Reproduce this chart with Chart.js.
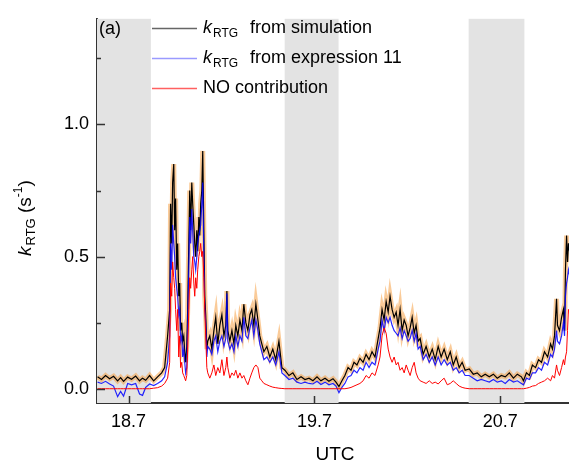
<!DOCTYPE html>
<html>
<head>
<meta charset="utf-8">
<script src="https://cdn.jsdelivr.net/npm/chart.js@4.4.1/dist/chart.umd.min.js"></script>
<style>
  body { margin: 0; background: #fff; }
  #wrap { width: 569px; height: 466px; }
</style>
</head>
<body>
<div id="wrap"><canvas id="myChart" width="569" height="466"></canvas></div>
<script>
// time (UTC hours)
var times = [
  18.533, 18.554, 18.576, 18.598, 18.619, 18.641, 18.657, 18.673, 18.695, 18.716,
  18.738, 18.759, 18.775, 18.792, 18.813, 18.835, 18.856, 18.878, 18.894, 18.910,
  18.921, 18.926, 18.932, 18.937, 18.943, 18.948, 18.953, 18.959, 18.964, 18.970,
  18.975, 18.980, 18.986, 18.991, 18.997, 19.002, 19.007, 19.013, 19.018, 19.024,
  19.029, 19.034, 19.040, 19.045, 19.051, 19.056, 19.061, 19.067, 19.072, 19.078,
  19.083, 19.088, 19.094, 19.099, 19.105, 19.110, 19.115, 19.121, 19.126, 19.137,
  19.148, 19.159, 19.169, 19.180, 19.191, 19.202, 19.213, 19.223, 19.229, 19.234,
  19.245, 19.256, 19.267, 19.277, 19.288, 19.299, 19.310, 19.320, 19.331, 19.342,
  19.353, 19.363, 19.374, 19.385, 19.396, 19.406, 19.417, 19.428, 19.444, 19.460,
  19.476, 19.492, 19.509, 19.525, 19.541, 19.563, 19.584, 19.606, 19.628, 19.649,
  19.671, 19.692, 19.714, 19.735, 19.757, 19.778, 19.800, 19.816, 19.832, 19.848,
  19.864, 19.881, 19.897, 19.913, 19.929, 19.945, 19.962, 19.978, 19.994, 20.010,
  20.026, 20.043, 20.053, 20.064, 20.075, 20.086, 20.097, 20.107, 20.118, 20.129,
  20.140, 20.150, 20.161, 20.172, 20.183, 20.194, 20.204, 20.215, 20.226, 20.237,
  20.247, 20.258, 20.269, 20.285, 20.301, 20.318, 20.334, 20.350, 20.366, 20.382,
  20.398, 20.415, 20.431, 20.447, 20.463, 20.479, 20.495, 20.511, 20.533, 20.555,
  20.576, 20.598, 20.619, 20.641, 20.663, 20.684, 20.706, 20.727, 20.749, 20.771,
  20.792, 20.814, 20.825, 20.841, 20.857, 20.873, 20.890, 20.906, 20.922, 20.938,
  20.955, 20.971, 20.981, 20.992, 21.003, 21.008, 21.019, 21.030, 21.040, 21.046,
  21.051, 21.057, 21.062, 21.067, 21.073
];

// k_RTG from simulation
var kSim = [
  0.045, 0.035, 0.050, 0.038, 0.047, 0.030, 0.042, 0.028, 0.044, 0.036,
  0.048, 0.030, 0.040, 0.032, 0.050, 0.030, 0.045, 0.060, 0.080, 0.200,
  0.300, 0.700, 0.550, 0.780, 0.850, 0.600, 0.720, 0.450, 0.550, 0.350,
  0.400, 0.220, 0.250, 0.180, 0.200, 0.140, 0.100, 0.160, 0.300, 0.550,
  0.750, 0.600, 0.780, 0.700, 0.620, 0.550, 0.500, 0.600, 0.520, 0.650,
  0.580, 0.700, 0.750, 0.900, 0.600, 0.350, 0.280, 0.150, 0.180, 0.200,
  0.150, 0.220, 0.270, 0.170, 0.240, 0.280, 0.200, 0.240, 0.370, 0.220,
  0.180, 0.220, 0.170, 0.240, 0.200, 0.260, 0.220, 0.320, 0.250, 0.220,
  0.280, 0.300, 0.240, 0.320, 0.260, 0.200, 0.170, 0.140, 0.160, 0.120,
  0.150, 0.110, 0.180, 0.080, 0.070, 0.050, 0.060, 0.035, 0.045, 0.035,
  0.040, 0.030, 0.045, 0.030, 0.040, 0.028, 0.038, 0.025, 0.008, 0.030,
  0.050, 0.080, 0.070, 0.100, 0.090, 0.115, 0.100, 0.130, 0.110, 0.140,
  0.120, 0.190, 0.230, 0.300, 0.260, 0.330, 0.290, 0.350, 0.300, 0.270,
  0.290, 0.240, 0.300, 0.220, 0.260, 0.240, 0.200, 0.230, 0.270, 0.210,
  0.240, 0.180, 0.190, 0.130, 0.160, 0.120, 0.150, 0.110, 0.160, 0.120,
  0.150, 0.110, 0.140, 0.090, 0.120, 0.080, 0.100, 0.070, 0.075, 0.055,
  0.060, 0.045, 0.055, 0.045, 0.055, 0.040, 0.050, 0.045, 0.060, 0.040,
  0.055, 0.045, 0.030, 0.060, 0.050, 0.090, 0.080, 0.110, 0.100, 0.140,
  0.120, 0.170, 0.150, 0.200, 0.340, 0.240, 0.220, 0.270, 0.300, 0.220,
  0.450, 0.580, 0.480, 0.550, 0.520
];

// k_RTG from expression 11
var kExpr = [
  0.025, 0.020, 0.028, 0.018, 0.010, -0.030, -0.010, -0.028, 0.020, 0.015,
  0.020, -0.020, -0.025, 0.005, 0.018, 0.012, 0.020, 0.030, 0.045, 0.100,
  0.200, 0.550, 0.450, 0.620, 0.550, 0.500, 0.420, 0.380, 0.350, 0.280,
  0.300, 0.180, 0.200, 0.120, 0.150, 0.100, 0.060, 0.080, 0.250, 0.450,
  0.650, 0.550, 0.680, 0.600, 0.500, 0.480, 0.450, 0.500, 0.550, 0.580,
  0.600, 0.620, 0.700, 0.780, 0.500, 0.300, 0.250, 0.120, 0.160, 0.150,
  0.130, 0.180, 0.200, 0.140, 0.180, 0.200, 0.160, 0.190, 0.360, 0.180,
  0.150, 0.170, 0.140, 0.200, 0.160, 0.200, 0.180, 0.270, 0.200, 0.190,
  0.230, 0.260, 0.200, 0.260, 0.220, 0.170, 0.140, 0.110, 0.120, 0.100,
  0.120, 0.090, 0.140, 0.060, 0.050, 0.035, 0.040, 0.025, 0.020, 0.025,
  0.020, 0.018, 0.028, 0.016, 0.025, 0.015, 0.020, 0.010, -0.015, 0.005,
  0.020, 0.045, 0.050, 0.070, 0.060, 0.080, 0.070, 0.100, 0.080, 0.100,
  0.090, 0.150, 0.180, 0.260, 0.220, 0.270, 0.250, 0.270, 0.240, 0.220,
  0.210, 0.200, 0.230, 0.190, 0.220, 0.200, 0.180, 0.190, 0.220, 0.180,
  0.210, 0.150, 0.160, 0.110, 0.130, 0.100, 0.120, 0.090, 0.120, 0.090,
  0.110, 0.090, 0.100, 0.070, 0.080, 0.060, 0.070, 0.050, 0.050, 0.040,
  0.030, 0.035, 0.030, 0.025, 0.035, 0.025, 0.030, 0.020, 0.035, 0.025,
  0.030, 0.020, 0.015, 0.040, 0.035, 0.060, 0.060, 0.080, 0.070, 0.100,
  0.090, 0.130, 0.120, 0.150, 0.220, 0.180, 0.170, 0.200, 0.250, 0.200,
  0.350, 0.400, 0.420, 0.450, 0.430
];

// NO contribution
var kNO = [
  0, 0, 0, 0, 0, 0, 0, 0, 0, 0,
  0, 0, 0, 0, 0, 0.002, 0.004, 0.010, 0.020, 0.040,
  0.100, 0.400, 0.350, 0.480, 0.420, 0.380, 0.300, 0.220, 0.300, 0.120,
  0.200, 0.080, 0.100, 0.060, 0.050, 0.040, 0.030, 0.050, 0.150, 0.300,
  0.420, 0.380, 0.450, 0.500, 0.400, 0.350, 0.420, 0.380, 0.450, 0.500,
  0.520, 0.550, 0.500, 0.520, 0.420, 0.300, 0.200, 0.080, 0.060, 0.040,
  0.060, 0.090, 0.050, 0.080, 0.060, 0.110, 0.050, 0.080, 0.120, 0.080,
  0.040, 0.060, 0.050, 0.070, 0.040, 0.060, 0.040, 0.050, 0.030, 0.015,
  0.040, 0.060, 0.080, 0.090, 0.080, 0.040, 0.030, 0.020, 0.015, 0.010,
  0.006, 0.004, 0.002, 0.001, 0, 0, 0, 0, 0, 0,
  0, 0, 0, 0, 0, 0, 0, 0, 0, 0,
  0, 0.002, 0.005, 0.010, 0.015, 0.020, 0.030, 0.050, 0.040, 0.060,
  0.050, 0.090, 0.120, 0.200, 0.230, 0.210, 0.150, 0.120, 0.100, 0.120,
  0.090, 0.100, 0.070, 0.080, 0.060, 0.090, 0.070, 0.050, 0.080, 0.100,
  0.060, 0.040, 0.030, 0.025, 0.020, 0.030, 0.020, 0.025, 0.018, 0.030,
  0.040, 0.015, 0.020, 0.030, 0.020, 0.010, 0.005, 0.002, 0, 0,
  0, 0, 0, 0, 0, 0, 0, 0, 0, 0,
  0, 0, 0, 0.002, 0.005, 0.010, 0.012, 0.020, 0.025, 0.030,
  0.040, 0.030, 0.050, 0.040, 0.090, 0.070, 0.050, 0.080, 0.110, 0.090,
  0.120, 0.140, 0.220, 0.300, 0.280
];

var nightBands = [[18.53, 18.82], [19.54, 19.83], [20.53, 20.83]];
var xTicks = [18.7, 19.7, 20.7];
var yTicks = [0.0, 0.5, 1.0];
var yMinorTicks = [0.25, 0.75, 1.25];

var FONT = "'Liberation Sans', Arial, sans-serif";

function puntos(serie) {
    return times.map(function (t, i) { return { x: t, y: serie[i] }; });
}

// dibuja "k" cursiva + subindice RTG, devuelve x final
function drawK(ctx, x, y, size) {
    ctx.font = "italic " + size + "px " + FONT;
    ctx.fillText("k", x, y);
    x += ctx.measureText("k").width + 1;
    ctx.font = Math.round(size * 0.68) + "px " + FONT;
    ctx.fillText("RTG", x, y + size * 0.3);
    return x + ctx.measureText("RTG").width;
}

var decoracion = {
    id: 'decoracion',
    beforeDatasetsDraw: function (chart) {
        var ctx = chart.ctx, a = chart.chartArea, xs = chart.scales.x;
        ctx.save();
        ctx.fillStyle = '#e3e3e3';
        nightBands.forEach(function (b) {
            var x1 = Math.max(xs.getPixelForValue(b[0]), a.left);
            var x2 = Math.min(xs.getPixelForValue(b[1]), a.right);
            ctx.fillRect(x1, a.top, x2 - x1, a.bottom - a.top);
        });
        ctx.restore();
    },
    afterDraw: function (chart) {
        var ctx = chart.ctx, a = chart.chartArea, xs = chart.scales.x, ys = chart.scales.y;
        ctx.save();
        // ticks hacia dentro
        ctx.strokeStyle = '#333';
        ctx.lineWidth = 1.5;
        ctx.beginPath();
        xTicks.forEach(function (v) {
            var px = Math.round(xs.getPixelForValue(v)) + 0.5;
            ctx.moveTo(px, a.bottom); ctx.lineTo(px, a.bottom - 7);
        });
        yTicks.forEach(function (v) {
            var py = Math.round(ys.getPixelForValue(v)) + 0.5;
            ctx.moveTo(a.left, py); ctx.lineTo(a.left + 8, py);
        });
        yMinorTicks.forEach(function (v) {
            var py = Math.round(ys.getPixelForValue(v)) + 0.5;
            ctx.moveTo(a.left, py); ctx.lineTo(a.left + 4, py);
        });
        ctx.stroke();

        ctx.fillStyle = '#000';
        ctx.textBaseline = 'middle';
        ctx.textAlign = 'left';
        ctx.font = "18px " + FONT;
        ctx.fillText("(a)", 99, 29);

        // leyenda
        var filas = [
            { color: '#666666', y: 28, tipo: 'k', resto: "from simulation" },
            { color: '#9a9aff', y: 58, tipo: 'k', resto: "from expression 11" },
            { color: '#ff6060', y: 88, tipo: 't', resto: "NO contribution" }
        ];
        filas.forEach(function (f) {
            ctx.strokeStyle = f.color;
            ctx.lineWidth = 1.5;
            ctx.beginPath();
            ctx.moveTo(152, f.y + 0.5); ctx.lineTo(197, f.y + 0.5);
            ctx.stroke();
            ctx.fillStyle = '#000';
            if (f.tipo === 'k') {
                drawK(ctx, 203, f.y, 18);
                ctx.font = "18px " + FONT;
                ctx.fillText(f.resto, 250, f.y);
            } else {
                ctx.font = "18px " + FONT;
                ctx.fillText(f.resto, 203, f.y);
            }
        });

        // titulo eje x
        ctx.textAlign = 'center';
        ctx.font = "19px " + FONT;
        ctx.fillText("UTC", (a.left + a.right) / 2 + 2, 455);

        // titulo eje y
        ctx.translate(26, 218);
        ctx.rotate(-Math.PI / 2);
        ctx.textAlign = 'left';
        var x = -38;
        x = drawK(ctx, x, 0, 19);
        ctx.font = "19px " + FONT;
        ctx.fillText(" (s", x, 0);
        x += ctx.measureText(" (s").width;
        ctx.font = "12px " + FONT;
        ctx.fillText("-1", x, -7);
        x += ctx.measureText("-1").width;
        ctx.font = "19px " + FONT;
        ctx.fillText(")", x, 0);
        ctx.restore();
    }
};

function CrearGraf() {
    var ctx = document.getElementById('myChart').getContext('2d');

    var data = {
        datasets: [
            { label: 'NO contribution', data: puntos(kNO), borderColor: '#ff0000', borderWidth: 1, order: 0 },
            { label: 'kRTG from expression 11', data: puntos(kExpr), borderColor: 'rgba(0,0,255,0.85)', borderWidth: 1.2, order: 1 },
            { label: 'kRTG from simulation', data: puntos(kSim), borderColor: '#000000', borderWidth: 1.2, order: 2 },
            { label: 'uncertainty', data: puntos(kSim), borderColor: 'rgba(245,160,70,0.55)', borderWidth: 5, order: 3 }
        ]
    };

    var options = {
        responsive: false,
        animation: false,
        layout: { padding: { top: 9, right: 0, left: 0, bottom: 0 } },
        elements: { point: { radius: 0 }, line: { tension: 0 } },
        plugins: { legend: { display: false }, tooltip: { enabled: false } },
        scales: {
            x: {
                type: 'linear', min: 18.53, max: 21.07,
                afterBuildTicks: function (s) { s.ticks = xTicks.map(function (v) { return { value: v }; }); },
                afterFit: function (s) { s.height = 63; },
                grid: { display: false, drawTicks: false },
                border: { display: true, color: '#333', width: 2 },
                ticks: { color: '#000', padding: 8, maxRotation: 0, font: { family: FONT, size: 18 },
                    callback: function (v) { return v.toFixed(1); } }
            },
            y: {
                min: -0.054, max: 1.4,
                afterBuildTicks: function (s) { s.ticks = yTicks.map(function (v) { return { value: v }; }); },
                afterFit: function (s) { s.width = 97; },
                grid: { display: false, drawTicks: false },
                border: { display: true, color: '#333', width: 2 },
                ticks: { color: '#000', padding: 8, font: { family: FONT, size: 18 },
                    callback: function (v) { return v.toFixed(1); } }
            }
        }
    };

    new Chart(ctx, { type: 'line', data: data, options: options, plugins: [decoracion] });
}

CrearGraf();
</script>
</body>
</html>
